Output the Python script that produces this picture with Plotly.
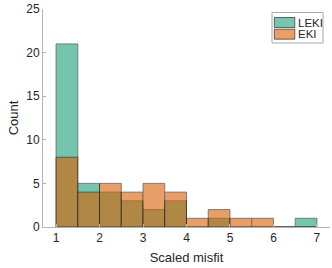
import plotly.graph_objects as go

bin_centers = [1.25, 1.75, 2.25, 2.75, 3.25, 3.75, 4.25, 4.75, 5.25, 5.75, 6.25, 6.75]
leki_counts = [21, 5, 4, 3, 2, 3, 0, 1, 0, 0, 0, 1]
eki_counts = [8, 4, 5, 4, 5, 4, 1, 2, 1, 1, 0, 0]
series_names = ["LEKI", "EKI"]
series_colors = ["#1b9e77", "#d95f02"]
x_ticks = [1, 2, 3, 4, 5, 6, 7]
y_ticks = [0, 5, 10, 15, 20, 25]

font = "Liberation Sans, Arial, sans-serif"
axis_grey = "#b4b4b4"
text_col = "#262626"

W, H = 332, 268
ML, MR, MT, MB = 43, 2, 9, 41
PW, PH = W - ML - MR, H - MT - MB


def px_x(px):
    return (px - ML) / PW


def px_y(py):
    return (H - MB - py) / PH


fig = go.Figure()
for name, counts, col in zip(series_names, [leki_counts, eki_counts], series_colors):
    fig.add_trace(go.Bar(
        x=bin_centers, y=counts, width=0.5, name=name,
        marker=dict(color=col, line=dict(color="black", width=0.8)),
        opacity=0.6, showlegend=False,
    ))


def rgba(hexcol, a):
    h = hexcol.lstrip("#")
    r, g, b = int(h[0:2], 16), int(h[2:4], 16), int(h[4:6], 16)
    return f"rgba({r},{g},{b},{a})"


shapes = [dict(
    type="rect", xref="paper", yref="paper",
    x0=px_x(272), x1=px_x(323), y0=px_y(43), y1=px_y(12.5),
    fillcolor="white", line=dict(color="#a8a8a8", width=1), layer="above",
)]
annotations = []
row_top = [17.5, 29.2]
for i, (name, col) in enumerate(zip(series_names, series_colors)):
    shapes.append(dict(
        type="rect", xref="paper", yref="paper",
        x0=px_x(274.3), x1=px_x(294.8), y0=px_y(row_top[i] + 10), y1=px_y(row_top[i]),
        fillcolor=rgba(col, 0.6), line=dict(color="rgba(0,0,0,0.55)", width=1), layer="above",
    ))
    annotations.append(dict(
        xref="paper", yref="paper", x=px_x(295.5), y=px_y(row_top[i] + 5),
        xanchor="left", yanchor="middle", text=name, showarrow=False,
        font=dict(size=11.5, color=text_col, family=font),
    ))

fig.update_layout(
    width=W, height=H,
    barmode="overlay",
    margin=dict(l=ML, r=MR, t=MT, b=MB, autoexpand=False),
    plot_bgcolor="white", paper_bgcolor="white",
    font=dict(family=font, size=12, color=text_col),
    showlegend=False,
    shapes=shapes,
    annotations=annotations,
    xaxis=dict(
        range=[0.7, 7.3], tickvals=x_ticks, showgrid=False, zeroline=False,
        showline=True, linecolor=axis_grey, linewidth=1, automargin=False,
        ticks="inside", ticklen=3, tickcolor=axis_grey,
        title=dict(text="Scaled misfit", font=dict(size=13, color=text_col), standoff=8),
        tickfont=dict(size=12, color=text_col),
    ),
    yaxis=dict(
        range=[0, 25], tickvals=y_ticks, showgrid=False, zeroline=False,
        showline=True, linecolor=axis_grey, linewidth=1, automargin=False,
        ticks="inside", ticklen=3, tickcolor=axis_grey,
        title=dict(text="Count", font=dict(size=13, color=text_col), standoff=4),
        tickfont=dict(size=12, color=text_col),
    ),
)

fig.write_html(
    "out.html",
    config={"displayModeBar": False},
    post_script="document.body.style.margin='0';document.body.style.padding='0';",
)
